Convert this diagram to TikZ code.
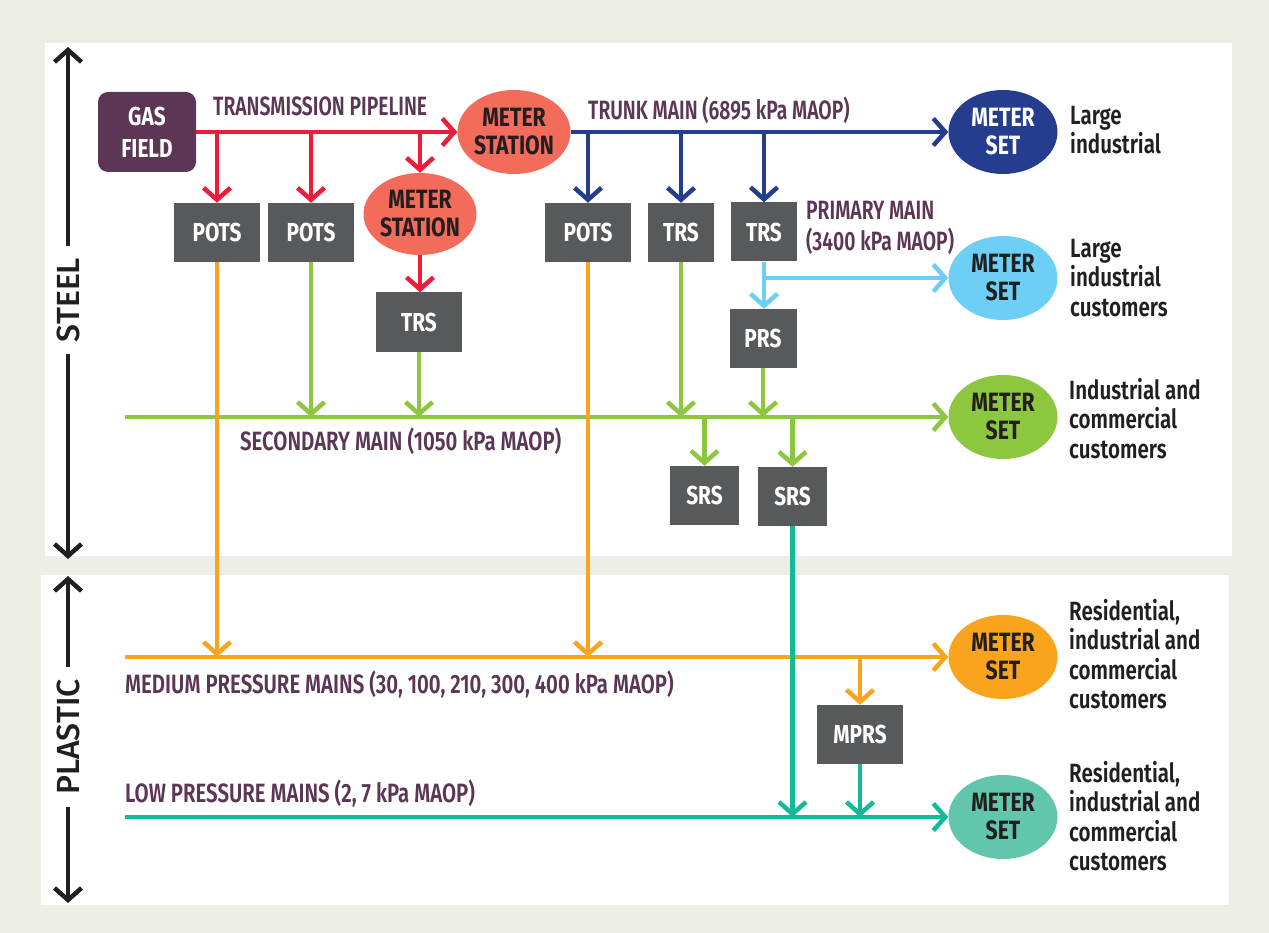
\documentclass[tikz,border=0pt]{standalone}
\usepackage{fontspec}
\setmainfont{Fira Sans}[FakeStretch=0.8]
\newfontfamily\medf{Fira Sans SemiBold}[FakeStretch=0.73]
\newfontfamily\widef{Fira Sans SemiBold}[FakeStretch=0.77]
\newfontfamily\custf{Fira Sans SemiBold}[FakeStretch=0.78]
\newfontfamily\sidef{Fira Sans Medium}
\usetikzlibrary{arrows.meta,shapes.geometric}

\definecolor{bgc}{HTML}{EDEEE6}
\definecolor{pipered}{HTML}{ED1C3A}
\definecolor{salmon}{HTML}{F26B5B}
\definecolor{navy}{HTML}{253D8F}
\definecolor{skyblue}{HTML}{6DCFF6}
\definecolor{lime}{HTML}{8DC63F}
\definecolor{amber}{HTML}{F8A41D}
\definecolor{teal}{HTML}{15B897}
\definecolor{mint}{HTML}{62C6AC}
\definecolor{boxgray}{HTML}{58595B}
\definecolor{plum}{HTML}{5B3655}
\definecolor{ink}{HTML}{231F20}

\tikzset{
  stationbox/.style={fill=boxgray, text=white, inner sep=0pt,
    minimum height=59pt, font=\fontsize{26}{27}\selectfont\bfseries},
  meter/.style={ellipse, inner sep=0pt, minimum width=109pt, minimum height=84pt,
    align=center, font=\fontsize{26.5}{28}\selectfont\bfseries},
  pipe/.style={line width=4.5pt},
  arr/.style={-{Straight Barb[length=12pt,width=27pt]}},
  mainlabel/.style={text=plum, inner sep=0pt, align=left, anchor=west,
    font=\medf\fontsize{26.5}{31}\selectfont},
  longlabel/.style={mainlabel, font=\widef\fontsize{26.5}{31}\selectfont},
  custlabel/.style={text=ink, inner sep=0pt, anchor=north west, align=left,
    font=\custf\fontsize{26.4}{29.5}\selectfont},
  material/.style={rotate=90, text=ink, inner xsep=12pt, inner ysep=0pt,
    font=\sidef\fontsize{32}{32}\selectfont},
}

\begin{document}
\begin{tikzpicture}[x=1pt, y=-1pt]
% canvas and the two panels
\fill[bgc] (0,0) rectangle (1269,933);
\useasboundingbox (0,0) rectangle (1269,933);
\fill[white] (45,43) rectangle (1232,556);
\fill[white] (41,575) rectangle (1229,905);

% material bands on the left
\coordinate (steelTop) at (68,47);
\coordinate (steelBot) at (68,559);
\coordinate (plasticTop) at (68,576);
\coordinate (plasticBot) at (68,903);
\node[material] (steel) at (68,300) {STEEL};
\node[material] (plastic) at (68,737) {PLASTIC};
\draw[ink, pipe, arr] (steel.east) -- (steelTop);
\draw[ink, pipe, arr] (steel.west) -- (steelBot);
\draw[ink, pipe, arr] (plastic.east) -- (plasticTop);
\draw[ink, pipe, arr] (plastic.west) -- (plasticBot);

% source and stations
\node[fill=plum, text=white, rounded corners=10pt, minimum width=98pt, minimum height=80pt,
  inner sep=0pt, align=center, font=\fontsize{26}{32}\selectfont\bfseries] (gas) at (147,132) {GAS\\FIELD};
\node[meter, fill=salmon, text=ink] (ms1) at (514,132) {METER\\STATION};
\node[meter, fill=salmon, text=ink, minimum width=110pt, minimum height=82pt] (ms2) at (420,214) {METER\\STATION};

\node[stationbox, minimum width=86pt] (pots1) at (217,232.5) {POTS};
\node[stationbox, minimum width=86pt] (pots2) at (311,232.5) {POTS};
\node[stationbox, minimum width=86pt] (trs3) at (419,322) {TRS};
\node[stationbox, minimum width=86pt] (pots3) at (588,232.5) {POTS};
\node[stationbox, minimum width=66pt] (trs4) at (681,232.5) {TRS};
\node[stationbox, minimum width=66pt] (trs5) at (764,232) {TRS};
\node[stationbox, minimum width=67pt] (prs) at (763,338.5) {PRS};
\node[stationbox, minimum width=69pt] (srs1) at (704.5,495.5) {SRS};
\node[stationbox, minimum width=69pt] (srs2) at (792.5,496.5) {SRS};
\node[stationbox, minimum width=86pt] (mprs) at (860,734.5) {MPRS};

% meter sets
\node[meter, fill=navy, text=white] (set1) at (1003,132) {METER\\SET};
\node[meter, fill=skyblue, text=ink] (set2) at (1003,278) {METER\\SET};
\node[meter, fill=lime, text=ink] (set3) at (1003,417) {METER\\SET};
\node[meter, fill=amber, text=ink] (set4) at (1003,657) {METER\\SET};
\node[meter, fill=mint, text=ink] (set5) at (1003,817) {METER\\SET};

% customer labels
\node[custlabel] (c1) at (1070,106) {Large\\industrial};
\node[custlabel] (c2) at (1070,239) {Large\\industrial\\customers};
\node[custlabel] (c3) at (1069,378) {Industrial and\\commercial\\customers};
\node[custlabel] (c4) at (1069,599) {Residential,\\industrial and\\commercial\\customers};
\node[custlabel] (c5) at (1069,761) {Residential,\\industrial and\\commercial\\customers};

% pipeline labels
\node[mainlabel] (lt) at (213,106) {TRANSMISSION PIPELINE};
\node[mainlabel] (lk) at (588,110) {TRUNK MAIN (6895 kPa MAOP)};
\node[mainlabel] (lp) at (806,228) {PRIMARY MAIN\\(3400 kPa MAOP)};
\node[longlabel] (ls) at (240,441) {SECONDARY MAIN (1050 kPa MAOP)};
\node[longlabel] (lm) at (125,684) {MEDIUM PRESSURE MAINS (30, 100, 210, 300, 400 kPa MAOP)};
\node[longlabel] (ll) at (125,793) {LOW PRESSURE MAINS (2, 7 kPa MAOP)};

% line ends on the left
\coordinate (secL) at (125,417);
\coordinate (medL) at (125,657);
\coordinate (lowL) at (125,817);

% transmission pipeline
\draw[pipered, pipe, arr] (gas.east) -- (ms1.west);
\draw[pipered, pipe, arr] (pots1.north |- gas.east) -- (pots1.north);
\draw[pipered, pipe, arr] (pots2.north |- gas.east) -- (pots2.north);
\draw[pipered, pipe, arr] (ms2.north |- gas.east) -- (ms2.north);
\draw[pipered, pipe, arr] (ms2.south) -- (ms2.south |- trs3.north);

% trunk main
\draw[navy, pipe, arr] (ms1.east) -- (set1.west);
\draw[navy, pipe, arr] (pots3.north |- ms1.east) -- (pots3.north);
\draw[navy, pipe, arr] (trs4.north |- ms1.east) -- (trs4.north);
\draw[navy, pipe, arr] (trs5.north |- ms1.east) -- (trs5.north);

% primary main
\draw[skyblue, pipe, arr] (trs5.south) -- (trs5.south |- prs.north);
\draw[skyblue, pipe, arr] (trs5.south |- set2.west) -- (set2.west);

% secondary main
\draw[lime, pipe, arr] (secL) -- (set3.west);
\draw[lime, pipe, arr] (pots2.south) -- (pots2.south |- set3.west);
\draw[lime, pipe, arr] (trs3.south) -- (trs3.south |- set3.west);
\draw[lime, pipe, arr] (trs4.south) -- (trs4.south |- set3.west);
\draw[lime, pipe, arr] (prs.south) -- (prs.south |- set3.west);
\draw[lime, pipe, arr] (srs1.north |- set3.west) -- (srs1.north);
\draw[lime, pipe, arr] (srs2.north |- set3.west) -- (srs2.north);

% medium pressure mains
\draw[amber, pipe, arr] (pots1.south) -- (pots1.south |- set4.west);
\draw[amber, pipe, arr] (pots3.south) -- (pots3.south |- set4.west);
\draw[amber, pipe, arr] (medL) -- (set4.west);
\draw[amber, pipe, arr] (mprs.north |- set4.west) -- (mprs.north);

% low pressure mains
\draw[teal, pipe, arr] (lowL) -- (set5.west);
\draw[teal, pipe, arr] (srs2.south) -- (srs2.south |- set5.west);
\draw[teal, pipe, arr] (mprs.south) -- (mprs.south |- set5.west);
\end{tikzpicture}
\end{document}
